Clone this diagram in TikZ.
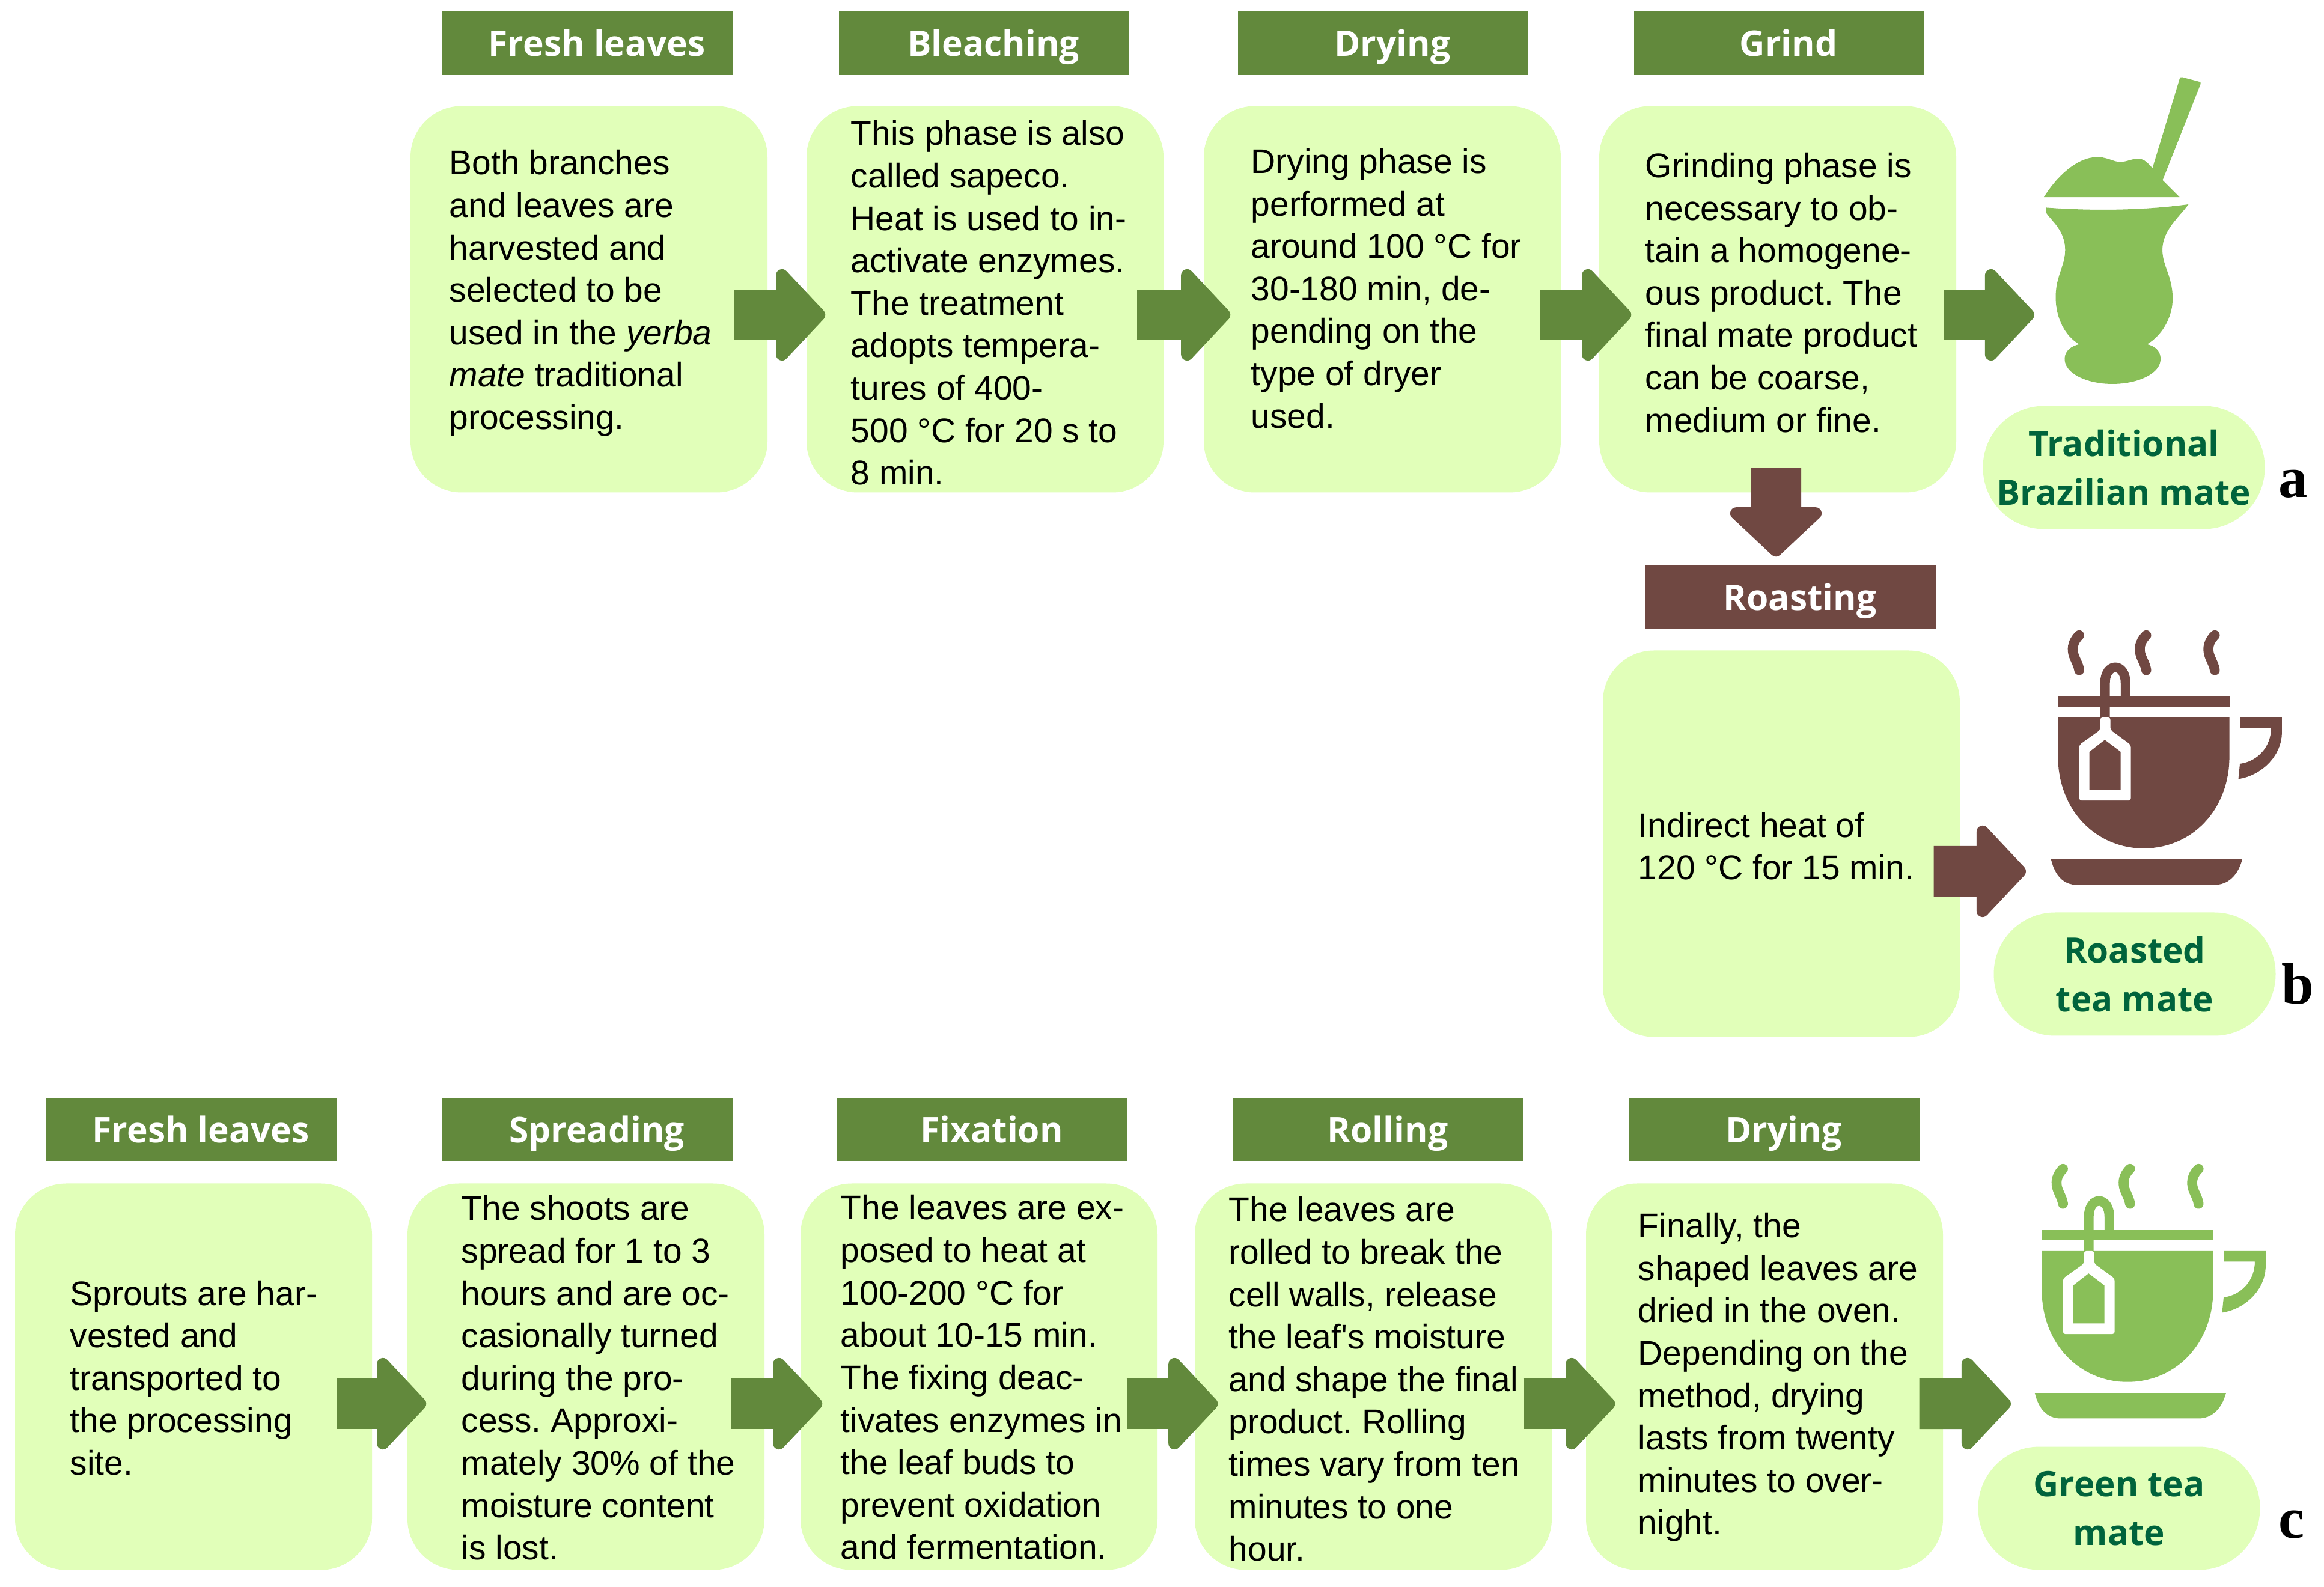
\documentclass[tikz,border=0pt]{standalone}
\usepackage{fontspec}
\setmainfont[Ligatures=TeXOff]{Liberation Sans}
\newfontfamily\headfont{Open Sans}
\newfontfamily\letterfont{Liberation Serif}
\usetikzlibrary{arrows.meta}
\definecolor{boxlime} {RGB}{225, 255, 185}
\definecolor{stepgreen}{RGB}{98, 137,  60}
\definecolor{iconlime}{RGB}{137, 191,  88}
\definecolor{roastbrown}{RGB}{112, 72, 66}
\definecolor{pillteal}{RGB}{0, 100,  60}
\frenchspacing

\tikzset{
  stepbox/.style={fill=boxlime, rounded corners=.85cm, minimum width=5.94cm, minimum height=6.43cm},
  steptext/.style={anchor=west, align=left, inner sep=0pt, font=\fontsize{16.2}{20.1}\selectfont},
  stephead/.style={fill=#1, text=white, minimum width=4.83cm, minimum height=1.05cm, inner sep=0pt,
    text height=.55cm, text depth=.12cm,
    font=\headfont\bfseries\fontsize{16.7}{20}\selectfont, execute at begin node=\hspace*{.32cm}},
  endpill/.style={fill=boxlime, text=pillteal, rounded corners=1.02cm, minimum width=4.69cm, minimum height=2.05cm,
    inner sep=0pt, align=center, font=\headfont\bfseries\fontsize{16.6}{23}\selectfont},
  panelmark/.style={anchor=base, inner sep=0pt, font=\letterfont\bfseries\fontsize{27.5}{30}\selectfont},
  flowarrow/.style={draw=#1, line width=.84cm, -{Triangle[length=.86cm,width=1.78cm,round,line width=.2cm]}}
}

% cup with tea bag, coordinates as read off a crop
\newcommand{\teacupicon}[3]{
  \begin{scope}[shift={(#1,#2)}, x=.004253cm, y=-.004975cm]
    % steam
    \foreach \dx in {0,262,530}
      \draw[#3, line width=.165cm, line cap=round, xshift=\dx*.004253cm]
        (610,155) .. controls (592,170) and (583,188) .. (585,207) .. controls (587,230) and (606,248) .. (610,272);
    % rim, bowl, handle, saucer
    \fill[#3] (527,360) rectangle (1197,395);
    \fill[#3] (527,430) -- (1197,430) -- (1197,560) .. controls (1197,740) and (1050,868) .. (862,868)
      .. controls (675,868) and (527,740) .. (527,560) -- cycle;
    \fill[#3] (1238,430) -- (1402,430) -- (1402,480) .. controls (1402,560) and (1320,625) .. (1232,636)
      -- (1238,585) .. controls (1305,578) and (1360,530) .. (1360,465) -- (1238,465) -- cycle;
    \fill[#3] (500,905) -- (1247,905) .. controls (1230,960) and (1190,990) .. (1140,990) -- (600,990)
      .. controls (550,990) and (515,960) .. (500,905) -- cycle;
    % tea bag
    \draw[#3, line width=.16cm] (711,430) -- (711,315) .. controls (711,245) and (791,245) .. (791,315) -- (791,360);
    \fill[white, rounded corners=.04cm] (692,430) -- (732,430) -- (732,472) -- (812,522) -- (812,708) -- (610,708)
      -- (610,522) -- (692,472) -- cycle;
    \fill[#3] (710,505) -- (772,545) -- (772,672) -- (650,672) -- (650,545) -- cycle;
  \end{scope}
}

\begin{document}
\begin{tikzpicture}
  \useasboundingbox (0,0) rectangle (38.67,26.4);

  % Traditional mate row
  \node[stephead=stepgreen] (freshhead) at (9.77,25.68) {Fresh leaves};
  \node[stephead=stepgreen] (bleachhead) at (16.37,25.68) {Bleaching};
  \node[stephead=stepgreen] (dryhead) at (23.01,25.68) {Drying};
  \node[stephead=stepgreen] (grindhead) at (29.60,25.68) {Grind};

  \node[stepbox] (freshbox) at (9.80,21.42) {};
  \node[stepbox] (bleachbox) at (16.39,21.42) {};
  \node[stepbox] (drybox) at (23.00,21.42) {};
  \node[stepbox] (grindbox) at (29.58,21.42) {};

  % Roasting column
  \node[stephead=roastbrown] (roasthead) at (29.79,16.46) {Roasting};
  \node[stepbox] (roastbox) at (29.64,12.36) {};

  % Green tea row
  \node[stephead=stepgreen] (sproutshead) at (3.18,7.60) {Fresh leaves};
  \node[stephead=stepgreen] (spreadhead) at (9.77,7.60) {Spreading};
  \node[stephead=stepgreen] (fixhead) at (16.34,7.60) {Fixation};
  \node[stephead=stepgreen] (rollhead) at (22.93,7.60) {Rolling};
  \node[stephead=stepgreen] (finalhead) at (29.52,7.60) {Drying};

  \node[stepbox] (sproutsbox) at (3.22,3.49) {};
  \node[stepbox] (spreadbox) at (9.75,3.49) {};
  \node[stepbox] (fixbox) at (16.29,3.49) {};
  \node[stepbox] (rollbox) at (22.85,3.49) {};
  \node[stepbox] (finalbox) at (29.36,3.49) {};

  % Ends of the arrows that point at the icons
  \coordinate (gourdtip) at (33.85,21.16);
  \coordinate (roastcuptip) at (33.71,11.90);
  \coordinate (greencuptip) at (33.46,3.04);

  % Arrows
  \draw[flowarrow=stepgreen] ([shift={(-.56,-.26)}]freshbox.east) -- ([shift={(.32,-.26)}]bleachbox.west);
  \draw[flowarrow=stepgreen] ([shift={(-.45,-.26)}]bleachbox.east) -- ([shift={(.45,-.26)}]drybox.west);
  \draw[flowarrow=stepgreen] ([shift={(-.35,-.26)}]drybox.east) -- ([shift={(.54,-.26)}]grindbox.west);
  \draw[flowarrow=stepgreen] ([shift={(-.22,-.26)}]grindbox.east) -- (gourdtip);
  \draw[flowarrow=roastbrown] ([shift={(-.03,.415)}]grindbox.south) -- ([shift={(-.24,.145)}]roasthead.north);
  \draw[flowarrow=roastbrown] ([shift={(-.44,-.46)}]roastbox.east) -- (roastcuptip);
  \draw[flowarrow=stepgreen] ([shift={(-.59,-.45)}]sproutsbox.east) -- ([shift={(.32,-.45)}]spreadbox.west);
  \draw[flowarrow=stepgreen] ([shift={(-.56,-.45)}]spreadbox.east) -- ([shift={(.37,-.45)}]fixbox.west);
  \draw[flowarrow=stepgreen] ([shift={(-.52,-.45)}]fixbox.east) -- ([shift={(.39,-.45)}]rollbox.west);
  \draw[flowarrow=stepgreen] ([shift={(-.47,-.45)}]rollbox.east) -- ([shift={(.49,-.45)}]finalbox.west);
  \draw[flowarrow=stepgreen] ([shift={(-.40,-.45)}]finalbox.east) -- (greencuptip);

  % Box texts
  \node[steptext] (freshtext) at (7.47,21.52) {Both branches\\and leaves are\\harvested and\\selected to be\\used in the \textit{yerba}\\\textit{mate} traditional\\processing.};
  \node[steptext] (bleachtext) at (14.15,21.36) {This phase is also\\called sapeco.\\Heat is used to in-\\activate enzymes.\\The treatment\\adopts tempera-\\tures of 400-\\500 °C for 20 s to\\8 min.};
  \node[steptext] (drytext) at (20.81,21.60) {Drying phase is\\performed at\\around 100 °C for\\30-180 min, de-\\pending on the\\type of dryer\\used.};
  \node[steptext] (grindtext) at (27.37,21.53) {Grinding phase is\\necessary to ob-\\tain a homogene-\\ous product. The\\final mate product\\can be coarse,\\medium or fine.};
  \node[steptext] (roasttext) at (27.25,12.32) {Indirect heat of\\120 °C for 15 min.};
  \node[steptext] (sproutstext) at (1.16,3.47) {Sprouts are har-\\vested and\\transported to\\the processing\\site.};
  \node[steptext] (spreadtext) at (7.67,3.47) {The shoots are\\spread for 1 to 3\\hours and are oc-\\casionally turned\\during the pro-\\cess. Approxi-\\mately 30\% of the\\moisture content\\is lost.};
  \node[steptext] (fixtext) at (13.98,3.48) {The leaves are ex-\\posed to heat at\\100-200 °C for\\about 10-15 min.\\The fixing deac-\\tivates enzymes in\\the leaf buds to\\prevent oxidation\\and fermentation.};
  \node[steptext] (rolltext) at (20.44,3.45) {The leaves are\\rolled to break the\\cell walls, release\\the leaf's moisture\\and shape the final\\product. Rolling\\times vary from ten\\minutes to one\\hour.};
  \node[steptext] (finaltext) at (27.25,3.48) {Finally, the\\shaped leaves are\\dried in the oven.\\Depending on the\\method, drying\\lasts from twenty\\minutes to over-\\night.};

  % Gourd with straw
  \begin{scope}[shift={(32,25.6)}, x=.004253cm, y=-.00542cm]
    \fill[iconlime, rounded corners=.03cm] (895,372) -- (1005,88) -- (1087,105) -- (935,408) -- cycle;
    \fill[iconlime] (472,458) .. controls (530,385) and (610,335) .. (680,335) .. controls (720,335) and (745,350) .. (770,350)
      .. controls (795,350) and (815,340) .. (840,340) .. controls (865,340) and (880,355) .. (895,368)
      -- (935,405) -- (1002,458) -- cycle;
    \fill[iconlime] (480,490) .. controls (650,500) and (850,500) .. (1037,480) .. controls (1000,520) and (935,560) .. (935,620)
      .. controls (935,670) and (975,700) .. (975,770) .. controls (975,830) and (930,885) .. (875,910)
      .. controls (905,915) and (928,930) .. (928,955) .. controls (928,1000) and (840,1032) .. (740,1032)
      .. controls (640,1032) and (553,1000) .. (553,955) .. controls (553,930) and (580,915) .. (610,910)
      .. controls (555,885) and (518,830) .. (518,765) .. controls (518,700) and (555,670) .. (555,620)
      .. controls (555,560) and (500,530) .. (480,505) -- cycle;
  \end{scope}

  % Cups
  \teacupicon{32}{16.6}{roastbrown}
  \teacupicon{31.73}{7.72}{iconlime}

  % End labels
  \node[endpill] (gourdpill) at (35.34,18.62) {Traditional\\Brazilian mate};
  \node[endpill] (roastpill) at (35.52,10.19) {Roasted\\tea mate};
  \node[endpill] (greenpill) at (35.26,1.30) {Green tea\\mate};

  \node[panelmark] (marka) at (38.16,18.12) {a};
  \node[panelmark] (markb) at (38.23,9.69) {b};
  \node[panelmark] (markc) at (38.13,0.81) {c};
\end{tikzpicture}
\end{document}
